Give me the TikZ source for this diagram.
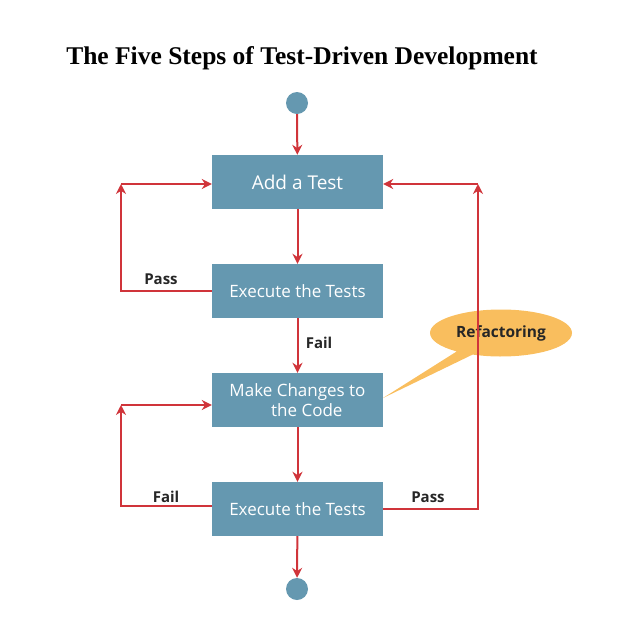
\documentclass[tikz,border=0pt]{standalone}
\usepackage{fontspec}
\setmainfont{Liberation Serif}
\newfontfamily\boxfont{Open Sans}
\usetikzlibrary{arrows.meta,shapes.geometric,shapes.callouts}
\definecolor{boxblue}{HTML}{6598B0}
\definecolor{linered}{HTML}{D0343A}
\definecolor{calloutorange}{HTML}{F9BE5E}
\begin{document}
\begin{tikzpicture}[x=1pt,y=-1pt,
  stepbox/.style={fill=boxblue,minimum width=171pt,minimum height=54pt,inner sep=0pt,
    text=white,font=\boxfont\fontsize{17}{20}\selectfont,align=center},
  endpoint/.style={circle,fill=boxblue,minimum size=22pt,inner sep=0pt},
  conn/.style={draw=linered,line width=2pt},
  tip/.style={-{Stealth[length=10pt,width=10pt]}},
  lbl/.style={font=\boxfont\bfseries\fontsize{15}{18}\selectfont,text=black!85}]
\useasboundingbox (0,0) rectangle (625,625);
\node[font=\bfseries\fontsize{25.5}{30}\selectfont] (title) at (302,58) {The Five Steps of Test-Driven Development};
\node[endpoint] (start) at (297,103) {};
\node[stepbox,font=\boxfont\fontsize{19}{22}\selectfont] (b1) at (297.5,182) {Add a Test};
\node[stepbox] (b2) at (297.5,291) {Execute the Tests};
\node[stepbox] (b3) at (297.5,400) {Make Changes to\\\hspace*{1.1em}the Code};
\node[stepbox] (b4) at (297.5,509) {Execute the Tests};
\node[endpoint] (stop) at (297,589) {};
\coordinate (l1) at (121,184);
\coordinate (l2) at (121,405);
\coordinate (r1) at (478,184);
\node[ellipse callout,fill=calloutorange,minimum width=142pt,minimum height=47pt,
  callout absolute pointer={(383,398)},font=\boxfont\bfseries\fontsize{15.5}{18}\selectfont,text=black!85] (ref) at (501,333) {Refactoring};
% main flow
\draw[conn,tip] (start) -- (b1);
\draw[conn,tip] (b1) -- (b2);
\draw[conn,tip] (b2) -- node[lbl,right=4pt,pos=0.45] {Fail} (b3);
\draw[conn,tip] (b3) -- (b4);
\draw[conn,tip] (b4) -- (stop);
% left loop 1
\draw[conn,tip] (b2.west) -| (l1);
\draw[conn,tip] (l1) -- (l1 -| b1.west);
\node[lbl] at (161,279) {Pass};
% left loop 2
\draw[conn,tip] ([yshift=3pt]b4.west) -| (l2);
\draw[conn,tip] (l2) -- (l2 -| b3.west);
\node[lbl] at (166,497) {Fail};
% right loop
\draw[conn,tip] (b4.east) -| (r1);
\draw[conn,tip] (r1) -- (r1 -| b1.east);
\node[lbl] at (428,497) {Pass};
\end{tikzpicture}
\end{document}
